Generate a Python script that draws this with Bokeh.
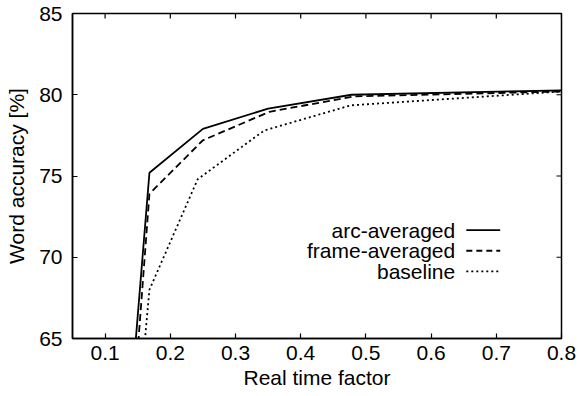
import math
from bokeh.plotting import figure
from bokeh.models import Range1d, FixedTicker
from bokeh.core.properties import value
from bokeh.embed import file_html
from bokeh.resources import INLINE

# ---- data ----
arc_x = [0.137, 0.168, 0.250, 0.350, 0.478, 0.800]
arc_y = [60.0, 75.2, 77.9, 79.15, 80.0, 80.27]

frame_x = [0.142, 0.168, 0.250, 0.352, 0.482, 0.800]
frame_y = [60.0, 73.9, 77.2, 78.95, 79.9, 80.2]

base_x = [0.150, 0.168, 0.242, 0.344, 0.477, 0.800]
base_y = [60.0, 68.0, 74.8, 77.8, 79.35, 80.2]

series_names = ["arc-averaged", "frame-averaged", "baseline"]
x_ticks = [0.1, 0.2, 0.3, 0.4, 0.5, 0.6, 0.7, 0.8]
x_tick_labels = ["0.1", "0.2", "0.3", "0.4", "0.5", "0.6", "0.7", "0.8"]
y_ticks = [65, 70, 75, 80, 85]
y_tick_labels = ["65", "70", "75", "80", "85"]

X_MIN, X_MAX = 0.05, 0.8
Y_MIN, Y_MAX = 65, 85

FONT = "Liberation Sans"
FS = "21px"

p = figure(width=581, height=396,
           x_range=Range1d(X_MIN, X_MAX), y_range=Range1d(Y_MIN, Y_MAX),
           output_backend="svg", toolbar_location=None,
           min_border_left=72, min_border_right=20,
           min_border_top=13, min_border_bottom=58)
p.xgrid.visible = False
p.ygrid.visible = False
p.outline_line_color = "black"
p.outline_line_width = 1.5
p.background_fill_color = "white"
p.border_fill_color = "white"

def style_axis(ax, ticks, labels):
    ax.ticker = FixedTicker(ticks=ticks)
    ax.major_label_overrides = {t: l for t, l in zip(ticks, labels)}
    ax.major_tick_in = 5
    ax.major_tick_out = 0
    ax.minor_tick_in = 0
    ax.minor_tick_out = 0
    ax.axis_line_color = "black"
    ax.axis_line_width = 1.5
    ax.major_tick_line_color = "black"
    ax.major_tick_line_width = 1.2
    ax.major_label_text_font = FONT
    ax.major_label_text_color = "black"
    ax.major_label_text_font_size = FS
    ax.axis_label_text_font = FONT
    ax.axis_label_text_font_size = FS
    ax.axis_label_text_font_style = "normal"
    ax.axis_label_text_color = "black"

style_axis(p.xaxis[0], x_ticks, x_tick_labels)
style_axis(p.yaxis[0], y_ticks, y_tick_labels)
p.xaxis[0].major_label_standoff = 7
p.yaxis[0].major_label_standoff = 10
p.xaxis[0].axis_label = "Real time factor"
p.yaxis[0].axis_label = "Word accuracy [%]"
p.xaxis[0].axis_label_standoff = 3
p.yaxis[0].axis_label_standoff = 8

# mirrored inward ticks on top and right (gnuplot style)
p.ray(x=x_ticks, y=[Y_MAX] * len(x_ticks), length=5, length_units="screen",
      angle=-math.pi / 2, line_color="black", line_width=1.2)
p.ray(x=[X_MAX] * len(y_ticks), y=y_ticks, length=5, length_units="screen",
      angle=math.pi, line_color="black", line_width=1.2)

# ---- series ----
p.line(arc_x, arc_y, line_color="black", line_width=1.8)
p.line(frame_x, frame_y, line_color="black", line_width=1.8, line_dash="7 4")
p.line(base_x, base_y, line_color="black", line_width=1.8, line_dash="2 3")

# ---- legend (text left, sample right, as in gnuplot) ----
leg_text_x = 0.637
leg_x0 = 0.654
leg_x1 = 0.706
leg_y = [71.67, 70.40, 69.13]
dashes = ["solid", "6 4", "2 3"]
p.text(x=[leg_text_x] * 3, y=leg_y, text=series_names,
       text_align="right", text_baseline="middle",
       text_font=value(FONT), text_font_size=FS, text_color="black")
for yy, d in zip(leg_y, dashes):
    p.line([leg_x0, leg_x1], [yy, yy], line_color="black", line_width=1.8, line_dash=d)

open("out.html", "w").write(file_html(p, INLINE))
